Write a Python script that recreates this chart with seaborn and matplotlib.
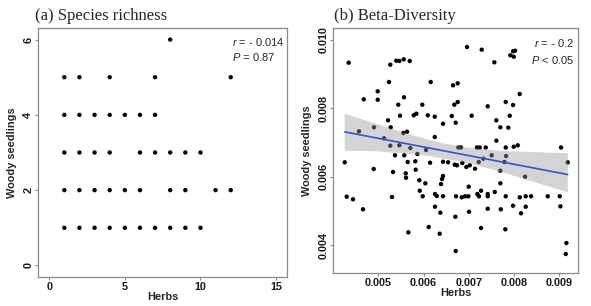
import matplotlib
matplotlib.use("Agg")
import matplotlib.pyplot as plt
from matplotlib.collections import PolyCollection
import numpy as np
import pandas as pd
import seaborn as sns

##############################################
#                 DATA
##############################################
# (a) species richness
richHerbs = [8,
             1, 2, 4, 7, 12,
             1, 2, 3, 4, 5, 6, 7,
             1, 2, 3, 4, 6, 7, 8, 9, 10,
             1, 2, 3, 4, 5, 6, 8, 9, 11, 12,
             1, 2, 3, 4, 5, 6, 7, 8, 9, 10]
richWoody = [6,
             5, 5, 5, 5, 5,
             4, 4, 4, 4, 4, 4, 4,
             3, 3, 3, 3, 3, 3, 3, 3, 3,
             2, 2, 2, 2, 2, 2, 2, 2, 2, 2,
             1, 1, 1, 1, 1, 1, 1, 1, 1, 1]

# (b) beta-diversity
betaHerbs = [0.004345, 0.005265, 0.005398, 0.005465, 0.005562, 0.005695, 0.005237, 0.006159,
             0.004987, 0.006652, 0.006756, 0.004677, 0.004987, 0.005568, 0.005442, 0.005973,
             0.006681, 0.006756, 0.005215, 0.005480, 0.005783, 0.005841, 0.006093, 0.006248,
             0.006624, 0.006431, 0.006712, 0.005274, 0.004905, 0.004573, 0.005553, 0.005635,
             0.006248, 0.005126, 0.005265, 0.005465, 0.005708, 0.006055, 0.006962, 0.007287,
             0.007920, 0.007980, 0.008024, 0.007995, 0.007566, 0.008128, 0.007420, 0.007818,
             0.007980, 0.007066, 0.007610, 0.007907, 0.007699, 0.007876, 0.007610, 0.006770,
             0.006829, 0.007183, 0.007243, 0.007376, 0.007818, 0.007995, 0.008084, 0.009041,
             0.005369, 0.005575, 0.005863, 0.004257, 0.005650, 0.005818, 0.006144, 0.006431,
             0.006542, 0.006690, 0.006741, 0.004898, 0.005325, 0.005606, 0.005613, 0.005827,
             0.006431, 0.006409, 0.005907, 0.006040, 0.006387, 0.005916, 0.006254, 0.006292,
             0.005982, 0.006431, 0.006719, 0.004301, 0.004440, 0.005303, 0.004662, 0.006254,
             0.006371, 0.006703, 0.006115, 0.005664, 0.006358, 0.006712, 0.007508, 0.007825,
             0.007323, 0.007221, 0.007787, 0.006858, 0.006947, 0.007022, 0.007139, 0.007699,
             0.009190, 0.008245, 0.007699, 0.007000, 0.007272, 0.007190, 0.007227, 0.007420,
             0.007420, 0.007575, 0.007818, 0.008128, 0.008260, 0.008378, 0.008747, 0.009013,
             0.006845, 0.006918, 0.006991, 0.007006, 0.007420, 0.007708, 0.007980, 0.008260,
             0.008157, 0.009026, 0.007272, 0.007809, 0.009159, 0.009145]
betaWoody = [0.009336, 0.009278, 0.009395, 0.009386, 0.009436, 0.009386, 0.008772, 0.008772,
             0.008500, 0.008675, 0.008734, 0.008266, 0.008254, 0.008325, 0.008108, 0.008108,
             0.008108, 0.008187, 0.007652, 0.007787, 0.007798, 0.007845, 0.007798, 0.007757,
             0.007778, 0.007553, 0.007582, 0.007447, 0.007447, 0.007330, 0.007281, 0.007319,
             0.007164, 0.007126, 0.006909, 0.006921, 0.006842, 0.006784, 0.009795, 0.009716,
             0.009553, 0.009670, 0.009687, 0.009512, 0.009348, 0.008421, 0.008061, 0.008187,
             0.008099, 0.007787, 0.007652, 0.007787, 0.007447, 0.007436, 0.007056, 0.006857,
             0.006857, 0.006857, 0.006857, 0.006857, 0.006857, 0.006880, 0.006921, 0.006857,
             0.006629, 0.006629, 0.006667, 0.006424, 0.006433, 0.006453, 0.006412, 0.006441,
             0.006424, 0.006354, 0.006336, 0.006228, 0.006140, 0.006102, 0.005974, 0.006208,
             0.006023, 0.005936, 0.005898, 0.005810, 0.005789, 0.005593, 0.005497, 0.005439,
             0.005430, 0.005430, 0.005430, 0.005418, 0.005342, 0.005409, 0.005050, 0.005126,
             0.004950, 0.004833, 0.004532, 0.004377, 0.004336, 0.003830, 0.006629, 0.006608,
             0.006529, 0.006433, 0.006433, 0.006403, 0.006287, 0.006336, 0.006237, 0.006178,
             0.006424, 0.006003, 0.005810, 0.005711, 0.005593, 0.005497, 0.005430, 0.005497,
             0.005430, 0.005556, 0.005430, 0.005400, 0.005430, 0.005430, 0.005430, 0.005430,
             0.005400, 0.005430, 0.005430, 0.004979, 0.005067, 0.005050, 0.005155, 0.005126,
             0.004933, 0.005137, 0.004503, 0.004465, 0.004064, 0.003743]

richTicksX = [0, 5, 10, 15]
richTicksY = [0, 2, 4, 6]
betaTicksX = [0.005, 0.006, 0.007, 0.008, 0.009]
betaTicksY = [0.004, 0.006, 0.008, 0.010]

##############################################
#                 STYLE
##############################################
sns.set_theme(style="white")
plt.rcParams['font.family'] = ['Liberation Sans', 'DejaVu Sans']
plt.rcParams['mathtext.fontset'] = 'custom'
plt.rcParams['mathtext.rm'] = 'Liberation Sans'
plt.rcParams['mathtext.it'] = 'Liberation Sans:italic'

frameCol = "#8a8a8a"
tickFont = 7.8
labFont = 7.9


def styleAxis(ax, xticks, yticks, xfmt, yfmt):
    for sp in ax.spines.values():
        sp.set_color(frameCol)
        sp.set_linewidth(0.9)
    ax.set_xticks(xticks)
    ax.set_yticks(yticks)
    ax.set_xticklabels([xfmt % t for t in xticks], fontweight="bold", fontsize=tickFont, color="#1a1a1a")
    ax.set_yticklabels([yfmt % t for t in yticks], fontweight="bold", fontsize=tickFont, color="#1a1a1a",
                       rotation=90, va="center")
    ax.tick_params(axis="both", which="major", direction="out", length=2.2, width=0.8,
                   color=frameCol, pad=1.5, bottom=True, left=True)
    ax.set_xlabel("Herbs", fontweight="bold", fontsize=labFont)
    ax.set_ylabel("Woody seedlings", fontweight="bold", fontsize=labFont)
    ax.xaxis.label.set_va("center")
    ax.yaxis.label.set_va("center")
    ax.grid(False)


fig = plt.figure(figsize=(5.91, 3.06), dpi=100)
axA = fig.add_axes([0.0648, 0.0958, 0.4203, 0.8117])
axB = fig.add_axes([0.5640, 0.1088, 0.4146, 0.7987])

##############################################
#            (a) SPECIES RICHNESS
##############################################
dfA = pd.DataFrame({"Herbs": richHerbs, "Woody": richWoody})
sns.scatterplot(data=dfA, x="Herbs", y="Woody", ax=axA, color="black", s=10,
                edgecolor="none", linewidth=0)
axA.set_xlim(-0.72, 15.7)
axA.set_ylim(-0.3, 6.3)
styleAxis(axA, richTicksX, richTicksY, "%d", "%d")
axA.xaxis.set_label_coords(0.5, -0.081)
axA.yaxis.set_label_coords(-0.107, 0.5)
axA.text(0.781, 0.944, "$r$ = - 0.014", transform=axA.transAxes, fontsize=8, ha="left", va="center")
axA.text(0.781, 0.886, "$P$ = 0.87", transform=axA.transAxes, fontsize=8, ha="left", va="center")

##############################################
#            (b) BETA DIVERSITY
##############################################
dfB = pd.DataFrame({"Herbs": betaHerbs, "Woody": betaWoody})
sns.scatterplot(data=dfB, x="Herbs", y="Woody", ax=axB, color="black", s=10,
                edgecolor="none", linewidth=0)
sns.regplot(data=dfB, x="Herbs", y="Woody", ax=axB, scatter=False, ci=95, seed=1,
            color="#999999", line_kws={"linewidth": 1.2})
axB.lines[-1].set_color("#3355CC")
for coll in axB.collections:
    if isinstance(coll, PolyCollection):
        coll.set_alpha(0.42)
        coll.set_edgecolor("none")
axB.set_xlim(0.004005, 0.009424)
axB.set_ylim(0.003196, 0.010342)
styleAxis(axB, betaTicksX, betaTicksY, "%.3f", "%.3f")
axB.xaxis.set_label_coords(0.5, -0.084)
axB.yaxis.set_label_coords(-0.106, 0.5)
axB.text(0.984, 0.941, "$r$ = - 0.2", transform=axB.transAxes, fontsize=8, ha="right", va="center")
axB.text(0.984, 0.870, "$P$ < 0.05", transform=axB.transAxes, fontsize=8, ha="right", va="center")

# panel titles
fig.text(35 / 591, 1 - 20 / 306, "(a) Species richness", family="Liberation Serif",
         fontsize=12, ha="left", va="baseline")
fig.text(334 / 591, 1 - 20 / 306, "(b) Beta-Diversity", family="Liberation Serif",
         fontsize=12, ha="left", va="baseline")

fig.savefig("out.png", dpi=100)
